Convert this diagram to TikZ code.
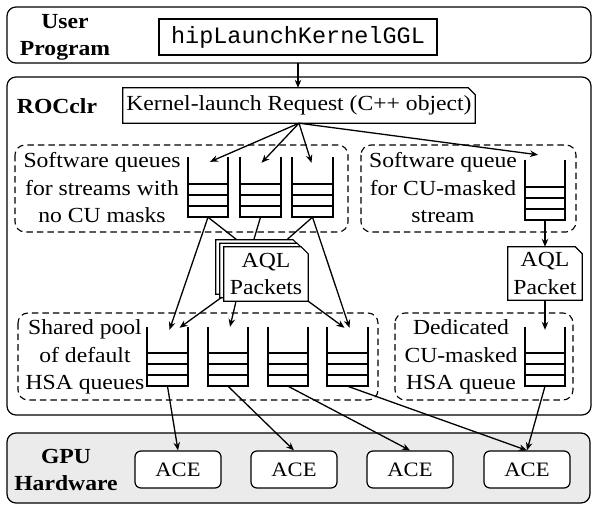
\documentclass[tikz,border=0pt]{standalone}
\usepackage{fontspec}
\setmainfont{Liberation Serif}[FakeStretch=1.1]
\setmonofont{Liberation Mono}
\usetikzlibrary{arrows.meta,calc}
\tikzset{
  box/.style={draw, line width=1.2pt, rounded corners=9pt},
  dbox/.style={draw, line width=1.1pt, dash pattern=on 6.5pt off 4pt, rounded corners=10pt},
  txt/.style={inner sep=0pt, align=center, font=\fontsize{21.5}{27.5}\selectfont},
  btxt/.style={inner sep=0pt, align=center, font=\fontsize{21.5}{27.5}\selectfont\bfseries},
  qnode/.style={draw=none, minimum width=40pt, minimum height=60pt, inner sep=0pt},
  qline/.style={line width=2pt},
  ace/.style={draw, line width=1.2pt, rounded corners=6pt, minimum width=86pt, minimum height=37pt, inner sep=0pt, font=\fontsize{20.5}{24}\selectfont},
  arr/.style={line width=1.3pt, -{Stealth[length=8pt,width=6.5pt]}},
  ln/.style={line width=1.3pt},
  dog/.style={draw=none, inner sep=0pt, align=center, font=\fontsize{21.5}{27.5}\selectfont},
}
\newcommand{\dogear}[2][white]{%
  \filldraw[fill=#1, line width=1.2pt] (#2.north west) -- ([xshift=-7pt]#2.north east) -- ([yshift=-7pt]#2.north east) -- (#2.south east) -- (#2.south west) -- cycle;}
\newcommand{\queueshape}[1]{%
  \draw[qline] (#1.north west) -- (#1.south west) -- (#1.south east) -- (#1.north east);
  \foreach \k in {11,22,33} {\draw[qline] ([yshift=\k pt]#1.south west) -- ([yshift=\k pt]#1.south east);}}
\begin{document}
\begin{tikzpicture}[x=1pt,y=-1pt]
\useasboundingbox (0,0) rectangle (598,511);
% User program
\draw[box] (7,7) rectangle (591,63);
\node[btxt] (up) at (65,37.5) {User\\Program};
\node[draw, line width=2pt, minimum width=278pt, minimum height=36pt, inner sep=0pt, font=\fontsize{23.5}{26}\ttfamily] (hip) at (298,37) {hipLaunchKernelGGL};
% ROCclr
\draw[box] (7,77) rectangle (591,415);
\node[btxt] (roc) at (57,106) {ROCclr};
\node[dog, minimum width=352pt, minimum height=35pt] (kr) at (299,105.5) {};
\dogear{kr}
\node[txt] at (kr) {Kernel-launch Request (C++ object)};
% software queues
\draw[dbox] (15,145) rectangle (348,232);
\node[txt] (swt) at (102,188) {Software queues\\for streams with\\no CU masks};
\node[qnode] (sq1) at (208,187) {};
\node[qnode] (sq2) at (260.5,187) {};
\node[qnode] (sq3) at (312.5,187) {};
\draw[dbox] (361,145) rectangle (576,232);
\node[txt] (rswt) at (443,188) {Software queue\\for CU-masked\\stream};
\node[qnode] (rsq) at (545,190) {};
% HSA queues
\draw[dbox] (18,313) rectangle (378,400);
\node[txt] (hst) at (85,357) {Shared pool\\of default\\HSA queues};
\node[qnode, minimum height=59pt] (hq1) at (167.5,356.5) {};
\node[qnode, minimum height=59pt] (hq2) at (228,356.5) {};
\node[qnode, minimum height=59pt] (hq3) at (288,356.5) {};
\node[qnode, minimum height=59pt] (hq4) at (347.5,356.5) {};
\draw[dbox] (395,313) rectangle (573,400);
\node[txt] (dht) at (461,357) {Dedicated\\CU-masked\\HSA queue};
\node[qnode, minimum height=59pt] (rhq) at (545,356.5) {};
\foreach \q in {sq1,sq2,sq3,rsq,hq1,hq2,hq3,hq4,rhq} {\queueshape{\q}}
% lines from software queues into the packet stack
\node[dog, minimum width=84pt, minimum height=54pt] (aqb2) at (258,267) {};
\node[dog, minimum width=84pt, minimum height=54pt] (aqb1) at (262,270.5) {};
\node[dog, minimum width=84pt, minimum height=54pt] (aq) at (266,274) {};
\draw[ln] (sq1.south) -- ($(aqb2.north west)+(21,0)$);
\draw[ln] (sq2.south) -- ($(aqb2.north west)+(38,0)$);
\draw[ln] (sq3.south) -- ($(aqb2.north west)+(71,0)$);
% AQL packets
\dogear{aqb2}\dogear{aqb1}\dogear{aq}
\node[txt] at (aq) {AQL\\Packets};
\node[dog, minimum width=74pt, minimum height=53pt] (ap) at (545,273.5) {};
\dogear{ap}
\node[txt] at (ap) {AQL\\Packet};
% GPU hardware
\draw[box, fill=black!8] (7,433) rectangle (590,503);
\node[btxt] (gpu) at (66,470) {GPU\\Hardware};
\node[ace, fill=white] (a1) at (178,469.5) {ACE};
\node[ace, fill=white] (a2) at (294,469.5) {ACE};
\node[ace, fill=white] (a3) at (410,469.5) {ACE};
\node[ace, fill=white] (a4) at (527,469.5) {ACE};
% connectors
\coordinate (upb) at (298,63);
\draw[arr] (upb) -- (kr.north -| upb);
\draw[arr] (kr.south) -- ($(sq1.north)+(2,5)$);
\draw[arr] (kr.south) -- ($(sq2.north)+(1,6)$);
\draw[arr] (kr.south) -- ($(sq3.north)+(-1,6)$);
\draw[arr] (kr.south) -- ($(rsq.north)+(-7,-5)$);
\draw[arr] (sq1.south) -- ($(hq1.north)+(2,3)$);
\draw[arr] (sq3.south) -- ($(hq4.north)+(2,1)$);
\draw[arr] ($(aq.south west)+(-2,-4)$) -- ($(hq1.north)+(12,1)$);
\draw[arr] ($(aq.south west)+(12,1)$) -- ($(hq2.north)+(2,0)$);
\draw[arr] (aq.south east) -- ($(hq4.north)+(-3,1)$);
\draw[arr] (rsq.south) -- (ap.north);
\draw[arr] (ap.south) -- ($(rhq.north)+(0,3)$);
\draw[arr] (hq1.south) -- (a1.north);
\draw[arr] (hq2.south) -- (a2.north);
\draw[arr] (hq3.south) -- (a3.north);
\draw[arr] (hq4.south) -- (a4.north);
\draw[arr] (rhq.south) -- (a4.north);
\end{tikzpicture}
\end{document}
